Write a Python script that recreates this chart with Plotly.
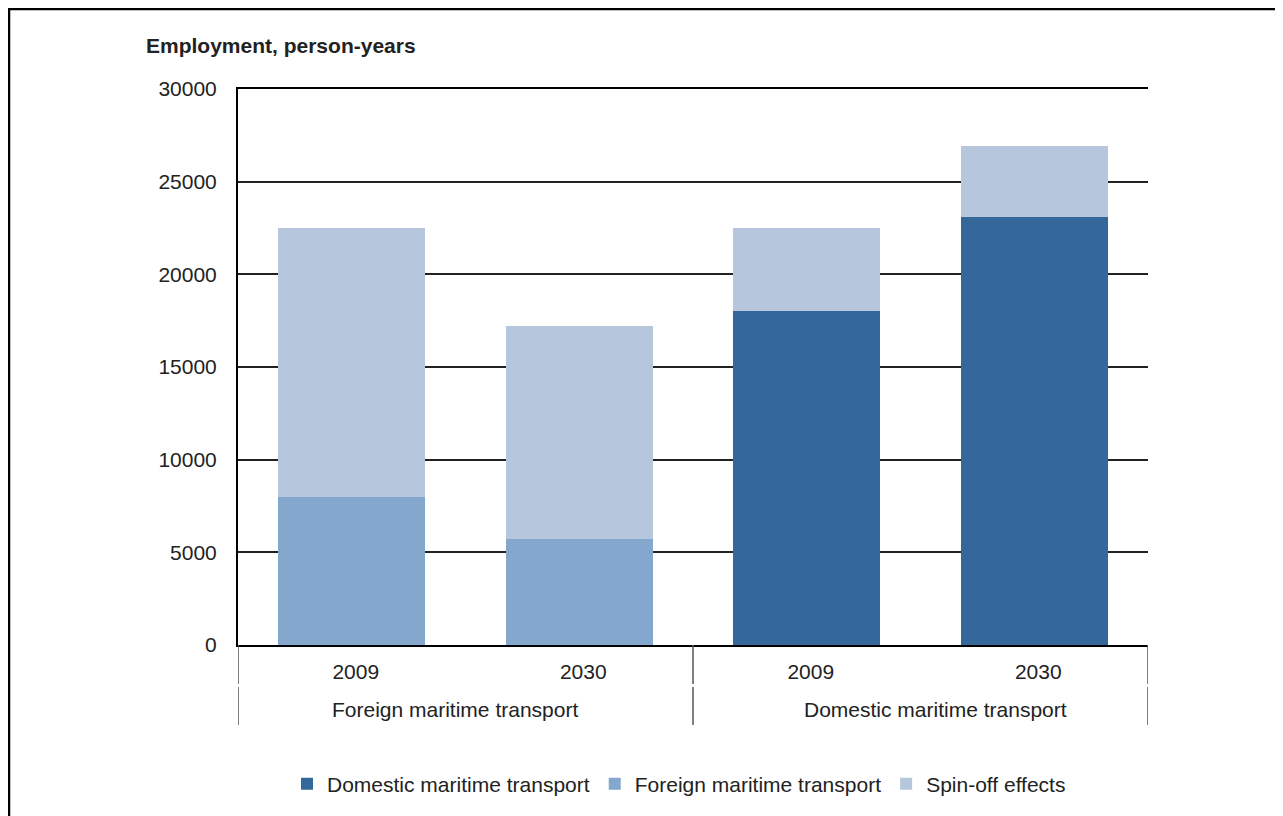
import plotly.graph_objects as go

# ---- data ----
positions = [0, 1, 2, 3]
years = ["2009", "2030", "2009", "2030"]
groups = ["Foreign maritime transport", "Domestic maritime transport"]
group_centers = [0.5, 2.5]
domestic = [0, 0, 18000, 23100]
foreign = [8000, 5700, 0, 0]
spinoff = [14500, 11500, 4500, 3800]
series_names = ["Domestic maritime transport", "Foreign maritime transport", "Spin-off effects"]
colors = ["#35689A", "#84A7CD", "#B5C6DD"]

# page has an 8px body margin; work in screen coordinates and offset
OFF = 8
W, H = 1283 - OFF, 816 - OFF
L, R, T, B = 238 - OFF, 1148 - OFF, 89 - OFF, 645 - OFF
pw, ph = R - L, B - T

def px_x(p):  # screen px -> paper
    return (p - OFF - L) / pw

def px_y(p):
    return (B - (p - OFF)) / ph

FONT = "Liberation Sans, Arial, sans-serif"
FS = 21

fig = go.Figure()
for name, vals, col in zip(series_names, [domestic, foreign, spinoff], colors):
    fig.add_trace(go.Bar(x=positions, y=vals, name=name, width=0.646,
                         marker=dict(color=col, line=dict(width=0))))

shapes = []
# group dividers
for xv in [-0.5, 1.5, 3.5]:
    shapes.append(dict(type="line", xref="x", yref="paper", x0=xv, x1=xv,
                       y0=0, y1=px_y(684), line=dict(color="#555", width=1.5)))
    shapes.append(dict(type="line", xref="x", yref="paper", x0=xv, x1=xv,
                       y0=px_y(687), y1=px_y(725), line=dict(color="#555", width=1.5)))
# outer frame
shapes.append(dict(type="rect", xref="paper", yref="paper",
                   x0=px_x(9), x1=px_x(1300), y0=px_y(840), y1=px_y(9),
                   line=dict(color="black", width=2.5)))

annotations = [
    dict(text="<b>Employment, person-years</b>", xref="paper", yref="paper",
         x=px_x(144), y=px_y(45), xanchor="left", yanchor="middle",
         showarrow=False, font=dict(size=FS, color="#222", family=FONT)),
]
for g, gc, xs in zip(groups, group_centers, [-11, 15]):
    annotations.append(dict(text=g, xref="x", yref="paper", x=gc, y=px_y(709), xshift=xs,
                            xanchor="center", yanchor="middle", showarrow=False,
                            font=dict(size=FS, color="#222", family=FONT)))

fig.update_layout(
    width=W, height=H,
    margin=dict(l=L, r=W - R, t=T, b=H - B, pad=0),
    plot_bgcolor="white", paper_bgcolor="white",
    barmode="stack", bargap=0,
    font=dict(family=FONT, size=FS, color="#222"),
    showlegend=True,
    legend=dict(orientation="h", x=px_x(679), xanchor="center", y=px_y(784), yanchor="middle",
                font=dict(size=FS, color="#222", family=FONT), traceorder="normal",
                itemwidth=30),
    shapes=shapes,
    annotations=annotations,
)
fig.update_xaxes(range=[-0.5, 3.5], tickmode="array", tickvals=positions, ticktext=years,
                 showgrid=False, showline=True, linecolor="black", linewidth=2, mirror=True,
                 ticks="", ticklabelstandoff=7, ticklabelshift=4,
                 tickfont=dict(size=FS, color="#222"), zeroline=False)
fig.update_yaxes(range=[0, 30000], dtick=5000, tickformat="d", showgrid=True,
                 gridcolor="#222", gridwidth=1.5,
                 showline=True, linecolor="black", linewidth=2, ticks="",
                 ticklabelstandoff=15, tickfont=dict(size=FS, color="#222"),
                 zeroline=False)

fig.write_html("out.html")
